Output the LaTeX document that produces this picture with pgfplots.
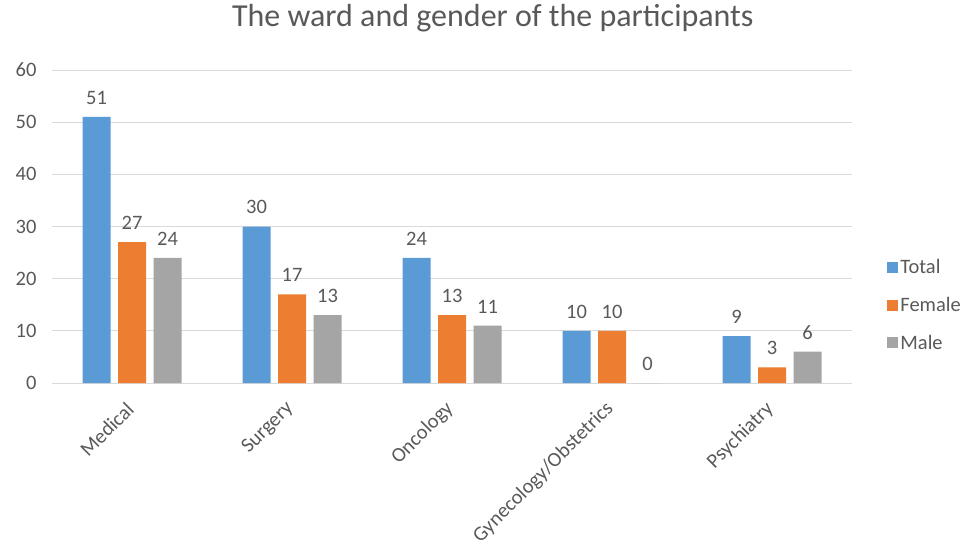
\documentclass[border=0pt]{standalone}
\usepackage{pgfplots}
\pgfplotsset{compat=1.18}
\usepackage{fontspec}
\setmainfont{Carlito}
\definecolor{cblue}{HTML}{5B9BD5}
\definecolor{corange}{HTML}{ED7D31}
\definecolor{cgray}{HTML}{A5A5A5}
\definecolor{tgray}{HTML}{595959}
\definecolor{ggray}{HTML}{D9D9D9}
\pgfplotsset{/pgf/number format/assume math mode=true}
\begin{document}
\begin{tikzpicture}
\useasboundingbox (0pt,0pt) rectangle (966pt,-546pt);
\begin{axis}[
  at={(52pt,-383pt)}, anchor=south west,
  scale only axis, width=800pt, height=313pt,
  ybar=7.5pt, bar width=28pt,
  xmin=-0.5, xmax=4.5, ymin=0, ymax=60,
  ytick={0,10,...,60},
  xtick={0,...,4},
  xticklabels={Medical,Surgery,Oncology,Gynecology/Obstetrics,Psychiatry},
  axis line style={draw=none},
  major tick length=0pt,
  ymajorgrids,
  major grid style={draw=ggray, line width=1pt},
  tick label style={font=\fontsize{20.5}{24}\selectfont, text=tgray},
  xticklabel style={rotate=45, anchor=east, xshift=1pt},
  xticklabel shift={21pt},
  yticklabel style={xshift=-12pt},
  title={The ward and gender of the participants},
  title style={at={(0.551,1)}, anchor=center, yshift=46pt, font=\fontsize{32}{38}\selectfont, text=tgray},
  nodes near coords,
  nodes near coords style={font=\fontsize{20.5}{24}\selectfont, text=tgray, anchor=south, yshift=9pt},
  legend style={at={(1.044,0.249)}, anchor=west, draw=none, fill=none, font=\fontsize{20.5}{24}\selectfont, text=tgray, row sep=18pt, inner sep=0pt},
  legend cell align=left,
  legend image code/.code={\fill[#1] (0pt,-5.5pt) rectangle (11pt,5.5pt);},
]
\addplot[fill=cblue, draw=none] coordinates {(0,51) (1,30) (2,24) (3,10) (4,9)};
\addplot[fill=corange, draw=none] coordinates {(0,27) (1,17) (2,13) (3,10) (4,3)};
\addplot[fill=cgray, draw=none] coordinates {(0,24) (1,13) (2,11) (3,0) (4,6)};
\legend{Total,Female,Male}
\end{axis}
\end{tikzpicture}
\end{document}
